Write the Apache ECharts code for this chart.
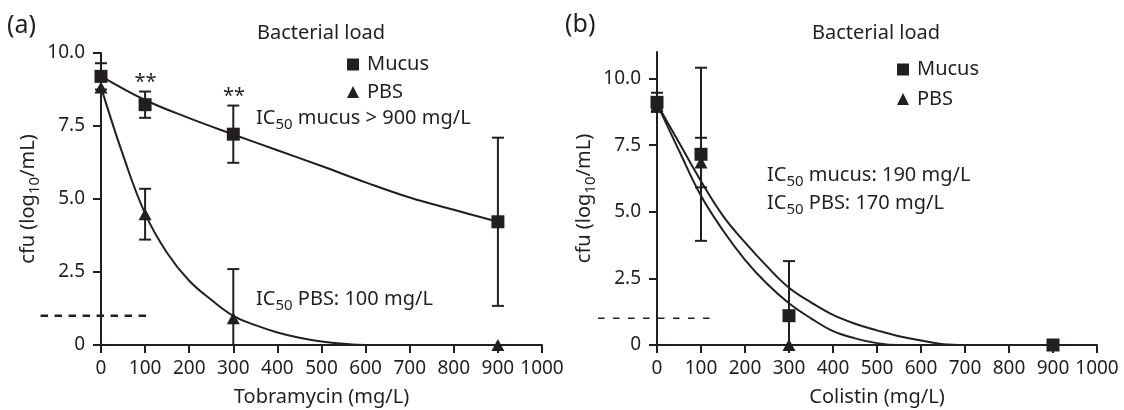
<!DOCTYPE html>
<html>
<head>
<meta charset="utf-8">
<script src="https://cdn.jsdelivr.net/npm/echarts@6/dist/echarts.min.js"></script>
<style>html,body{margin:0;padding:0;background:#fff}#chart{width:1124px;height:410px}</style>
</head>
<body>
<div id="chart"></div>
<script>
// ---------- data ----------
const doses = [0, 100, 300, 900];
const yTickValues = [0, 2.5, 5, 7.5, 10];
const detectionLimit = 1.0;
const detectionSpanA = [-137, 114];
const detectionSpanB = [-134, 121];

// (a) Tobramycin
const tobraMucusMean = [9.2, 8.23, 7.22, 4.22];
const tobraMucusErr  = [0.45, 0.45, 0.98, 2.88];
const tobraPbsMean   = [8.82, 4.48, 0.92, 0];
const tobraPbsErr    = [0, 0.87, 1.68, 0];
const tobraMucusFitDose = [0, 100, 200, 300, 400, 500, 600, 700, 800, 900];
const tobraMucusFit     = [9.21, 8.39, 7.77, 7.21, 6.67, 6.13, 5.57, 5.05, 4.63, 4.22];
const tobraPbsFitDose = [0, 50, 100, 150, 200, 250, 300, 350, 400, 450, 500, 550, 600, 700, 800, 900];
const tobraPbsFit     = [8.83, 6.5, 4.5, 3.15, 2.2, 1.55, 1.0, 0.68, 0.43, 0.25, 0.12, 0.04, 0, 0, 0, 0];

// (b) Colistin
const colMucusMean = [9.11, 7.16, 1.1, 0];
const colMucusErr  = [0.36, 3.25, 2.05, 0];
const colPbsMean   = [9.0, 6.85, 0, 0];
const colPbsErr    = [0, 0.93, 0, 0];
const colFitDose   = [0, 50, 100, 150, 200, 250, 300, 350, 400, 450, 500, 550, 600, 650, 700, 800, 900];
const colMucusFit  = [9.05, 7.6, 6.15, 4.85, 3.85, 2.95, 2.15, 1.6, 1.13, 0.8, 0.55, 0.33, 0.17, 0.03, 0, 0, 0];
const colPbsFit    = [9.05, 7.3, 5.6, 4.3, 3.2, 2.3, 1.57, 1.0, 0.52, 0.25, 0.07, 0, 0, 0, 0, 0, 0];

// ---------- style ----------
const INK = '#231f20';
const FONT = '"Noto Sans", sans-serif';
const subRich = { sub: { fontSize: 15, fontFamily: FONT, color: INK, verticalAlign: 'bottom', lineHeight: 4 } };

function zip(xs, ys) { return xs.map((x, i) => [x, ys[i]]); }

function xAxis(gi, name) {
  return {
    type: 'value', gridIndex: gi, min: 0, max: 1000, interval: 100,
    name: name, nameLocation: 'middle', nameGap: 42,
    nameTextStyle: { fontSize: 20, fontFamily: FONT, color: INK },
    axisLine: { lineStyle: { color: INK, width: 2 } },
    axisTick: { length: 8, lineStyle: { color: INK, width: 2 } },
    axisLabel: { fontSize: 19, fontFamily: FONT, color: INK, margin: 14, formatter: v => String(v) },
    splitLine: { show: false }
  };
}
function yAxis(gi, max) {
  return {
    type: 'value', gridIndex: gi, min: 0, max: max, interval: 2.5,
    name: 'cfu (log{sub|10}/mL)', nameLocation: 'middle', nameGap: 59,
    nameTextStyle: { fontSize: 20, fontFamily: FONT, color: INK, lineHeight: 28, rich: subRich },
    axisLine: { lineStyle: { color: INK, width: 2 } },
    axisTick: { length: 8, customValues: yTickValues, lineStyle: { color: INK, width: 2 } },
    axisLabel: { fontSize: 19, fontFamily: FONT, color: INK, margin: 16, customValues: yTickValues,
      formatter: v => (v === 0 ? '0' : v.toFixed(1)) },
    splitLine: { show: false }
  };
}

function errSeries(name, gi, mean, err) {
  const data = [];
  doses.forEach((d, i) => { if (err[i] > 0) data.push([d, mean[i] - err[i], mean[i] + err[i]]); });
  return {
    type: 'custom', name: name, xAxisIndex: gi, yAxisIndex: gi, z: 3, silent: true,
    encode: { x: 0, y: [1, 2] },
    data: data,
    renderItem: function (params, api) {
      const x = api.value(0), lo = api.value(1), hi = api.value(2);
      const top = api.coord([x, hi]);
      const bot = api.coord([x, Math.max(lo, 0)]);
      const hw = 6;
      const st = { stroke: INK, lineWidth: 2 };
      const ch = [
        { type: 'line', shape: { x1: top[0], y1: top[1], x2: bot[0], y2: bot[1] }, style: st },
        { type: 'line', shape: { x1: top[0] - hw, y1: top[1], x2: top[0] + hw, y2: top[1] }, style: st }
      ];
      if (lo >= 0) ch.push({ type: 'line', shape: { x1: bot[0] - hw, y1: bot[1], x2: bot[0] + hw, y2: bot[1] }, style: st });
      return { type: 'group', children: ch };
    }
  };
}
function fitSeries(name, gi, xs, ys) {
  return {
    type: 'line', name: name, xAxisIndex: gi, yAxisIndex: gi, data: zip(xs, ys),
    smooth: 0.4, showSymbol: false, silent: true, z: 2,
    lineStyle: { color: INK, width: 2 }
  };
}
function pointSeries(name, gi, mean, symbol, size, z) {
  return {
    type: 'scatter', name: name, xAxisIndex: gi, yAxisIndex: gi, data: zip(doses, mean),
    symbol: symbol, symbolSize: size, z: z, silent: true,
    itemStyle: { color: INK, opacity: 1 }
  };
}
function limitSeries(gi, span, width, dash) {
  return {
    type: 'custom', name: 'limit', xAxisIndex: gi, yAxisIndex: gi, silent: true, z: 2,
    encode: { x: [0, 1], y: 2 },
    data: [[span[0], span[1], detectionLimit]],
    renderItem: function (params, api) {
      const a = api.coord([api.value(0), api.value(2)]);
      const b = api.coord([api.value(1), api.value(2)]);
      return { type: 'line', shape: { x1: a[0], y1: a[1], x2: b[0], y2: b[1] },
        style: { stroke: INK, lineWidth: width, lineDash: dash } };
    }
  };
}
function txt(x, y, text, size, align) {
  return {
    type: 'text', x: x, y: y, silent: true,
    style: { text: text, fontSize: size || 20, fontFamily: FONT, fill: INK,
      align: align || 'left', verticalAlign: 'middle', lineHeight: 28,
      rich: { sub: { fontSize: 15, fontFamily: FONT, fill: INK, verticalAlign: 'bottom', lineHeight: 4 } } }
  };
}
function legend(left, top, gap) {
  return {
    orient: 'vertical', left: left, top: top, itemWidth: 12, itemHeight: 12, itemGap: gap,
    selectedMode: false, padding: 0,
    textStyle: { fontSize: 20, fontFamily: FONT, color: INK, padding: [0, 0, 0, 3] },
    data: [{ name: 'Mucus', icon: 'rect' }, { name: 'PBS', icon: 'triangle' }],
    itemStyle: { color: INK }
  };
}

const option = {
  backgroundColor: '#fff',
  animation: false,
  grid: [
    { left: 101, top: 53, width: 441, height: 292, outerBoundsMode: 'none' },
    { left: 657, top: 52, width: 440, height: 293, outerBoundsMode: 'none' }
  ],
  xAxis: [xAxis(0, 'Tobramycin (mg/L)'), xAxis(1, 'Colistin (mg/L)')],
  yAxis: [yAxis(0, 10), yAxis(1, 11)],
  legend: [legend(347, 54.5, 7.5), legend(897, 59.5, 9.5)],
  series: [
    limitSeries(0, detectionSpanA, 2.5, [7.5, 6.5]),
    fitSeries('Mucus fit a', 0, tobraMucusFitDose, tobraMucusFit),
    fitSeries('PBS fit a', 0, tobraPbsFitDose, tobraPbsFit),
    errSeries('Mucus err a', 0, tobraMucusMean, tobraMucusErr),
    errSeries('PBS err a', 0, tobraPbsMean, tobraPbsErr),
    pointSeries('PBS', 0, tobraPbsMean, 'triangle', [13, 12], 4),
    pointSeries('Mucus', 0, tobraMucusMean, 'rect', 13, 5),

    limitSeries(1, detectionSpanB, 1.5, [6.5, 8.5]),
    fitSeries('Mucus fit b', 1, colFitDose, colMucusFit),
    fitSeries('PBS fit b', 1, colFitDose, colPbsFit),
    errSeries('Mucus err b', 1, colMucusMean, colMucusErr),
    errSeries('PBS err b', 1, colPbsMean, colPbsErr),
    pointSeries('PBS', 1, colPbsMean, 'triangle', [13, 12], 4),
    pointSeries('Mucus', 1, colMucusMean, 'rect', 13, 5)
  ],
  graphic: [
    txt(7, 26, '(a)', 25),
    txt(565, 25, '(b)', 25),
    txt(257, 33, 'Bacterial load', 20),
    txt(812, 33, 'Bacterial load', 20),
    txt(256, 118, 'IC{sub|50} mucus > 900 mg/L', 20),
    txt(256, 299, 'IC{sub|50} PBS: 100 mg/L', 20),
    txt(767, 175, 'IC{sub|50} mucus: 190 mg/L', 20),
    txt(767, 203, 'IC{sub|50} PBS: 170 mg/L', 20),
    txt(145.5, 82, '**', 20, 'center'),
    txt(234, 96, '**', 20, 'center')
  ]
};

const chart = echarts.init(document.getElementById('chart'));
chart.setOption(option);
</script>
</body>
</html>
